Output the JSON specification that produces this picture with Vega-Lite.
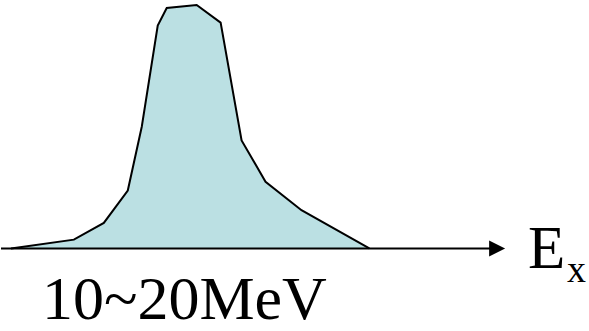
{
  "$schema": "https://vega.github.io/schema/vega-lite/v6.json",
  "width": 589,
  "height": 331,
  "padding": 0,
  "autosize": {"type": "fit", "contains": "padding"},
  "background": "white",
  "config": {"view": {"stroke": null}, "text": {"font": "Liberation Serif"}},
  "datasets": {
    "spectrum": [
      {"e": 10, "n": 0},
      {"e": 73, "n": 9},
      {"e": 103, "n": 26},
      {"e": 127, "n": 59},
      {"e": 141, "n": 124},
      {"e": 157, "n": 227},
      {"e": 166, "n": 245},
      {"e": 196, "n": 248},
      {"e": 220, "n": 230},
      {"e": 241, "n": 110},
      {"e": 265, "n": 68},
      {"e": 301, "n": 39},
      {"e": 369, "n": 0}
    ],
    "axisLine": [{"start": 0, "end": 491, "n": 0}],
    "arrowHead": [{"e": 497, "n": 0}],
    "labels": [
      {"text": "E", "e": 528, "n": -20, "size": 61},
      {"text": "x", "e": 567, "n": -34, "size": 38},
      {"text": "10~20MeV", "e": 41, "n": -72, "size": 62}
    ]
  },
  "layer": [
    {
      "data": {"name": "spectrum"},
      "mark": {"type": "area", "color": "#BBE0E3", "opacity": 1, "line": {"color": "black", "strokeWidth": 2}},
      "encoding": {
        "x": {"field": "e", "type": "quantitative", "scale": {"domain": [0, 589], "nice": false, "zero": false}, "axis": null},
        "y": {"field": "n", "type": "quantitative", "scale": {"domain": [-82, 249], "nice": false, "zero": false}, "axis": null}
      }
    },
    {
      "data": {"name": "axisLine"},
      "mark": {"type": "rule", "color": "black", "strokeWidth": 2},
      "encoding": {
        "x": {"field": "start", "type": "quantitative"},
        "x2": {"field": "end"},
        "y": {"field": "n", "type": "quantitative"}
      }
    },
    {
      "data": {"name": "arrowHead"},
      "mark": {"type": "point", "shape": "M-1,-1L1,0L-1,1Z", "size": 256, "filled": true, "color": "black", "opacity": 1},
      "encoding": {
        "x": {"field": "e", "type": "quantitative"},
        "y": {"field": "n", "type": "quantitative"}
      }
    },
    {
      "data": {"name": "labels"},
      "mark": {"type": "text", "font": "Liberation Serif", "align": "left", "baseline": "alphabetic", "color": "black"},
      "encoding": {
        "x": {"field": "e", "type": "quantitative"},
        "y": {"field": "n", "type": "quantitative"},
        "text": {"field": "text"},
        "size": {"field": "size", "type": "quantitative", "scale": null, "legend": null}
      }
    }
  ]
}
